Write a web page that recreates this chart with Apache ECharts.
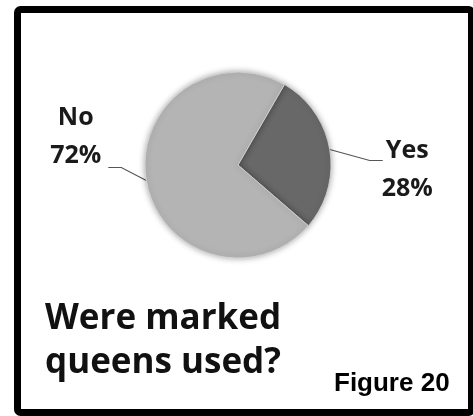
<!DOCTYPE html>
<html>
<head>
<meta charset="utf-8">
<script src="https://cdn.jsdelivr.net/npm/echarts@6/dist/echarts.min.js"></script>
<style>
  html, body { margin: 0; padding: 0; background: #fff; }
  #chart { width: 473px; height: 416px; }
</style>
</head>
<body>
<div id="chart"></div>
<script>
// Survey answers and their shares (percent)
const categories = ['Yes', 'No'];
const shares = [28, 72];
const sliceColors = ['#686868', '#b4b4b4'];

const titleText = 'Were marked\nqueens used?';
const figureText = 'Figure 20';

// Leader-line shape per slice: bend offset from the rim anchor, then a short horizontal tail
const leaders = [
  { reach: 40, rise: 11, tail: 13 },
  { reach: -25, rise: -13, tail: -13 }
];

const chart = echarts.init(document.getElementById('chart'), null, { renderer: 'canvas' });

chart.setOption({
  animation: false,
  backgroundColor: '#ffffff',
  title: [
    {
      text: titleText,
      left: 40,
      top: 292,
      textStyle: {
        fontFamily: 'Open Sans',
        fontWeight: 'bold',
        fontSize: 35,
        lineHeight: 44,
        color: '#111111'
      }
    },
    {
      text: figureText,
      left: 329,
      top: 366,
      textStyle: {
        fontFamily: 'Liberation Sans',
        fontWeight: 'bold',
        fontSize: 26,
        color: '#000000'
      }
    }
  ],
  graphic: [
    {
      type: 'rect',
      shape: { x: 17.5, y: 9.5, width: 454, height: 403, r: 3 },
      style: { fill: 'none', stroke: '#000000', lineWidth: 7 },
      z: 100
    }
  ],
  series: [
    {
      type: 'pie',
      center: [238, 165],
      radius: 93,
      startAngle: 60,
      clockwise: true,
      data: categories.map((name, i) => ({
        name: name,
        value: shares[i],
        itemStyle: { color: sliceColors[i] }
      })),
      itemStyle: {
        borderColor: 'rgba(215,215,215,0.8)',
        borderWidth: 1,
        shadowBlur: 6,
        shadowColor: 'rgba(0,0,0,0.35)'
      },
      emphasis: { disabled: true },
      label: {
        show: true,
        position: 'outside',
        formatter: '{t|{b}}\n{t|{c}%}',
        rich: {
          t: {
            fontFamily: 'Open Sans',
            fontWeight: 'bold',
            fontSize: 25,
            lineHeight: 38,
            color: '#1a1a1a',
            align: 'center'
          }
        }
      },
      labelLine: {
        show: true,
        length: 25,
        length2: 13,
        smooth: false,
        lineStyle: { color: '#555555', width: 1.2 }
      },
      labelLayout: function (p) {
        const g = leaders[p.dataIndex];
        const a = p.labelLinePoints[0];
        const bend = [a[0] + g.reach, a[1] + g.rise];
        const end = [bend[0] + g.tail, bend[1]];
        const toRight = g.tail > 0;
        return {
          labelLinePoints: [a, bend, end],
          x: end[0] + (toRight ? -1 : -7),
          y: toRight ? end[1] - 29 : end[1] + 7,
          align: toRight ? 'left' : 'right',
          verticalAlign: toRight ? 'top' : 'bottom'
        };
      }
    }
  ]
});
</script>
</body>
</html>
